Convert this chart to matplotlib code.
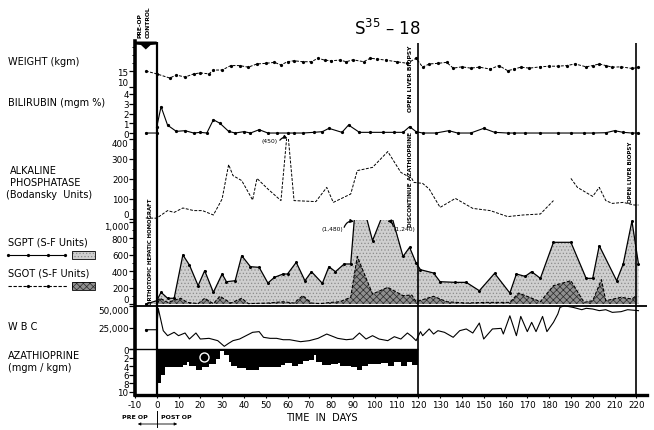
import matplotlib
matplotlib.use('Agg')
import matplotlib.pyplot as plt
import numpy as np
from matplotlib.patches import Polygon, Rectangle, FancyArrowPatch
from matplotlib.lines import Line2D

# ---------------- data ----------------
weight_day = [-5, 0, 6, 9, 13, 17, 20, 24, 26, 30, 34, 38, 42, 46, 50, 54, 57, 60, 63, 67,
              71, 74, 77, 80, 84, 87, 90, 95, 98, 101, 105, 110, 115, 119, 122, 125, 129, 133, 136, 140,
              144, 148, 153, 157, 161, 164, 167, 171, 176, 180, 184, 188, 192, 197, 200, 203, 206, 209, 213, 218,
              221]
weight_kg = [15, 14.1, 12.8, 13.75, 13.1, 14.1, 14.4, 14.1, 15.3, 15.3, 16.7, 16.7, 16.2, 17.2, 17.4, 17.7, 16.9, 17.9, 18.2, 17.9,
             17.9, 19, 18.4, 18.2, 18.4, 17.9, 18.5, 17.9, 19, 18.75, 18.4, 17.9, 17.4, 19, 16.2, 17.2, 17.4, 17.7, 15.9, 16.3,
             15.9, 16.2, 15.6, 16.7, 15.1, 15.6, 16.2, 15.9, 16.3, 16.5, 16.5, 16.7, 17.2, 16.3, 16.7, 17.2, 16.7, 16.2, 16.3, 15.8,
             16.1]

bili_day = [-5, 0, 0, 2, 5, 9, 13, 17, 20, 23, 26, 29, 33, 36, 40, 43, 47, 51, 55, 60,
            63, 67, 72, 76, 79, 85, 88, 93, 98, 104, 109, 113, 116, 119, 122, 128, 134, 138, 144, 150,
            155, 161, 164, 169, 176, 184, 190, 196, 200, 206, 210, 214, 218, 221]
bili_val = [0, 0, 0.6, 2.7, 0.8, 0.17, 0.24, 0, 0.07, 0, 1.36, 1.0, 0.17, 0, 0.14, 0, 0.34, 0, 0, 0,
            0, 0, 0.07, 0.14, 0.48, 0.07, 0.82, 0.07, 0.07, 0.07, 0.07, 0.07, 0.65, 0.14, 0, 0, 0.24, 0, 0, 0.48,
            0.07, 0, 0, 0, 0, 0, 0, 0, 0, 0.03, 0.24, 0.07, 0, 0]

alk_day = [-5, 0, 5, 8, 12, 17, 21, 26, 30, 33, 35, 39, 44, 46, 51, 57, 60, 63, 73, 78,
           81, 89, 92, 99, 106, 112, 117, 118, 122, 125, 130, 137, 145, 153, 161, 168, 176, 182, np.nan, 190,
           193, 200, 203, 206, 209, 214, 219, 221]
alk_val = [5, 4, 42, 33, 55, 42, 42, 20, 100, 272, 217, 192, 95, 203, 150, 92, 450, 92, 87, 158,
           83, 125, 242, 258, 337, 233, 203, 183, 178, 150, 58, 103, 53, 42, 12, 20, 25, 92, np.nan, 203,
           158, 113, 158, 92, 78, 83, 70, 70]

sgpt_day = [-5, 0, 2, 5, 8, 12, 15, 19, 22, 26, 30, 32, 36, 39, 43, 47, 51, 54, 58, 60,
            64, 68, 71, 76, 79, 82, 86, 89, 92, 99, 106, 113, 116, 119, 121, 127, 130, 137, 142, 148,
            155, 162, 165, 169, 172, 176, 182, 190, 197, 200, 203, 211, 214, 218, 221]
sgpt_val = [0, 40, 143, 70, 70, 598, 476, 224, 406, 143, 366, 272, 284, 589, 455, 447, 256, 325, 366, 366,
            508, 284, 394, 252, 455, 394, 488, 488, 1480, 773, 1240, 580, 691, 500, 418, 378, 272, 264, 264, 162,
            374, 134, 366, 337, 394, 313, 752, 752, 313, 313, 711, 284, 488, 1010, 488]

sgot_day = [0, 1.5, 5, 11, 14, 19, 22, 26, 29, 34, 39, 42, 51, 58, 63, 67, 71, 75, 80, 84,
            89, 92, 99, 106, 113, 117, 119, 127, 133, 142, 151, 162, 166, 171, 176, 182, 190, 196, 200, 204,
            206, 213, 218, 220]
sgot_val = [40, 70, 20, 70, 20, 5, 70, 5, 94, 12, 70, 5, 12, 28, 12, 102, 12, 5, 20, 28,
            82, 580, 122, 203, 102, 110, 28, 94, 28, 12, 20, 20, 134, 82, 28, 224, 284, 20, 40, 296,
            40, 82, 61, 102]

wbc_day = [-5, 0, 0.7, 3, 5, 8, 10, 13, 15, 18, 20, 24, 28, 31, 33, 35, 38, 41, 44, 47,
           49, 52, 55, 58, 61, 66, 70, 74, 78, 83, 87, 90, 93, 96, 99, 102, 106, 109, 112, 115,
           117, 119, 121, 122, 125, 127, 129, 132, 136, 139, 142, 145, 148, 150, 154, 158, 159, 162, 165, 167,
           170, 172, 174, 177, 179, 182, 184, 185, 187, 191, 195, 197, 200, 203, 206, 209, 213, 216, 221]
wbc_val = [22400, 22400, 47300, 21300, 15500, 19400, 15500, 18600, 11600, 18600, 11600, 12400, 9700, 3100, 6600, 9700, 11600, 15500, 19400, 20200,
           13600, 12400, 12400, 10800, 10800, 8500, 9700, 12400, 17400, 12400, 10800, 11600, 18600, 11600, 15500, 11600, 9700, 14300, 11600, 18600,
           14700, 9700, 20200, 15500, 23300, 17400, 21300, 19400, 13600, 21300, 23300, 18600, 30200, 11600, 23300, 24000, 17400, 38600, 15500, 37900,
           20200, 31000, 20200, 37900, 20200, 31000, 40700, 48400, 50300, 48400, 45700, 47300, 46500, 44600, 45700, 42600, 43400, 45700, 44600]

aza_start = [0, 2, 4, 8, 12, 14, 15, 18, 21, 24, 27, 29, 31, 33, 34, 37, 41, 47, 52, 57,
             59, 62, 65, 67, 70, 72, 73, 76, 80, 83, 84, 89, 92, 94, 97, 103, 106, 109, 112, 115,
             117]
aza_end_day = 120
aza_dose = [8, 6, 4.2, 4.3, 3.8, 3.0, 4.0, 4.8, 4.3, 3.6, 2.3, 0.5, 1.5, 3.0, 4.0, 4.5, 4.8, 4.3, 4.2, 3.8,
            3.3, 4.0, 3.4, 2.8, 2.5, 1.5, 3.0, 3.8, 3.6, 3.3, 4.0, 4.3, 4.9, 4.0, 3.6, 3.3, 4.0, 3.0, 4.0, 3.0,
            3.8]
aza_circle_day, aza_circle_dose = [21.5], [1.9]

x_ticks = list(range(-10, 221, 10))
x_ticklabels = [str(t) for t in x_ticks]
event_days = [0, 120, 220]

# ---------------- layout helpers ----------------
W, H = 654, 431
fig = plt.figure(figsize=(W / 100, H / 100), dpi=100)
plt.rcParams['font.family'] = ['DejaVu Sans']
plt.rcParams['hatch.linewidth'] = 0.5

XMIN, XMAX = -10, 225
LPX, RPX = 134.9, 647.2
FS_TICK = 6.3


def add_panel(top, bottom):
    ax = fig.add_axes([LPX / W, 1 - bottom / H, (RPX - LPX) / W, (bottom - top) / H])
    ax.set_xlim(XMIN, XMAX)
    ax.patch.set_alpha(0)
    for s in ax.spines.values():
        s.set_visible(False)
    ax.tick_params(axis='x', bottom=False, labelbottom=False)
    ax.tick_params(axis='y', direction='out', length=4, width=0.9, labelsize=FS_TICK, pad=0.5)
    ax.tick_params(axis='y', which='minor', direction='out', length=2.5, width=0.7)
    return ax


def set_label_va(ax, index, va):
    ax.yaxis.get_major_ticks()[index].label1.set_verticalalignment(va)


def ftext(px, py, s, **kw):
    return fig.text(px / W, 1 - py / H, s, **kw)


def arrow(ax, start, end, rad):
    ax.annotate('', xy=end, xytext=start, annotation_clip=False,
                arrowprops=dict(arrowstyle='-|>', lw=0.9, color='black', mutation_scale=5,
                                shrinkA=0, shrinkB=0, connectionstyle='arc3,rad=%g' % rad))


# weight
ax_w = add_panel(42, 90)
ax_w.set_ylim(9.375, 24.375)
ax_w.set_yticks([10, 15])
ax_w.set_yticks([17.5, 20, 22.5], minor=True)
set_label_va(ax_w, 0, 'bottom')
ax_w.plot(weight_day, weight_kg, ls=(0, (3, 1.5)), color='black', lw=0.7,
          marker='o', ms=1.3)

# bilirubin
ax_b = add_panel(90, 135)
ax_b.set_ylim(-0.1, 4.51)
ax_b.set_yticks([0, 1, 2, 3, 4])
ax_b.plot(bili_day, bili_val, color='black', lw=0.8, marker='o', ms=1.3)

# alkaline phosphatase
ax_a = add_panel(140, 221)
ax_a.set_ylim(-5, 400)
ax_a.set_yticks([0, 100, 200, 300, 400])
ax_a.set_yticks([50, 150, 250, 350], minor=True)
set_label_va(ax_a, 0, 'bottom')
set_label_va(ax_a, 4, 'top')
ax_a.plot(alk_day, alk_val, ls=(0, (3, 1.5)), color='black', lw=0.7)
ax_a.text(52, 392, '(450)', fontsize=4.3, ha='center', va='center')
arrow(ax_a, (56.5, 394), (60, 402), -0.4)

# SGPT / SGOT
ax_s = add_panel(221, 306)
ax_s.set_ylim(-12, 1024)
ax_s.set_yticks([0, 200, 400, 600, 800, 1000])
ax_s.set_yticklabels(['0', '200', '400', '600', '800', '1,000'])
ax_s.set_yticks([100, 300, 500, 700, 900], minor=True)
set_label_va(ax_s, 0, 'bottom')
set_label_va(ax_s, 5, 'top')
ax_s.fill_between(sgpt_day, 0, sgpt_val, facecolor='#cfcfcf', edgecolor='#8c8c8c',
                  hatch='.....', lw=0, zorder=1)
ax_s.fill_between(sgot_day, 0, sgot_val, facecolor='#8e8e8e', edgecolor='#2a2a2a',
                  hatch='xxxxx', lw=0, zorder=2)
ax_s.plot(sgpt_day, sgpt_val, color='black', lw=0.9, marker='o', ms=1.2, zorder=3)
ax_s.plot(sgot_day, sgot_val, color='black', lw=0.8, ls=(0, (3, 1.5)), zorder=3)
ax_s.text(80.5, 915, '(1,480)', fontsize=4.3, ha='center', va='center')
arrow(ax_s, (86, 935), (90.5, 1005), -0.4)
ax_s.text(113.5, 915, '(1,240)', fontsize=4.3, ha='center', va='center')
arrow(ax_s, (108.5, 945), (105.8, 1010), 0.4)

# WBC
ax_c = add_panel(306, 350)
ax_c.set_ylim(0, 51163)
ax_c.set_yticks([0, 25000, 50000])
ax_c.set_yticklabels(['0', '25,000', '50,000'])
set_label_va(ax_c, 2, 'top')
ax_c.plot(wbc_day, wbc_val, color='black', lw=0.8)
ax_c.plot(wbc_day[:1], wbc_val[:1], 'o', color='black', ms=1.3)

# Azathioprine
ax_z = add_panel(350, 393)
ax_z.set_ylim(10, 0)
ax_z.set_yticks([0, 2, 4, 6, 8, 10])
ax_z.set_yticklabels(['', '2', '4', '6', '8', '10'])
ax_z.fill_between(aza_start + [aza_end_day], 0, aza_dose + [aza_dose[-1]], step='post',
                  color='black', lw=0)
ax_z.plot(aza_circle_day, aza_circle_dose, 'o', mfc='none', mec='white', ms=6.5, mew=1.0)

# frame axes (decorations: spines, event lines, x axis)
fr = fig.add_axes([LPX / W, 1 - 396 / H, (RPX - LPX) / W, (396 - 42) / H], zorder=10)
fr.patch.set_alpha(0)
fr.set_xlim(XMIN, XMAX)
fr.set_ylim(396, 42)
for k in ['top', 'right']:
    fr.spines[k].set_visible(False)
fr.spines['left'].set_linewidth(2.6)
fr.spines['bottom'].set_linewidth(2.4)
fr.set_yticks([])
fr.set_xticks(x_ticks)
fr.set_xticklabels(x_ticklabels)
fr.tick_params(axis='x', direction='out', length=2, width=0.8, labelsize=FS_TICK, pad=1.5)
fr.vlines(event_days[0], 43, 396, color='black', lw=1.6)
fr.vlines(event_days[1:], 44, 396, color='black', lw=1.2)
fr.hlines(306.5, XMIN, XMAX, color='black', lw=1.3)
fr.hlines(350, XMIN, 120, color='black', lw=1.0)
fr.add_patch(Polygon([(-10, 42.5), (0, 42.5), (0, 45.5), (-2.8, 46), (-5, 50.5), (-7.2, 46), (-10, 45.5)],
                     closed=True, color='black', lw=0))

# ---------------- texts ----------------
ftext(387, 29, 'S$^{35}$ – 18', fontsize=12, ha='center', va='center')
ftext(140, 38, 'PRE-OP', fontsize=4.3, rotation=90, ha='center', va='bottom', fontweight='bold')
ftext(148, 38, 'CONTROL', fontsize=4.3, rotation=90, ha='center', va='bottom', fontweight='bold')

lab = dict(fontsize=7, ha='left', va='center')
ftext(8, 62, 'WEIGHT (kgm)', **lab)
ftext(8, 103, 'BILIRUBIN (mgm %)', **lab)
ftext(10, 171, 'ALKALINE', **lab)
ftext(10, 183, 'PHOSPHATASE', **lab)
ftext(6, 195, '(Bodansky  Units)', **lab)
ftext(8, 243, 'SGPT (S-F Units)', **lab)
ftext(8, 274, 'SGOT (S-F Units)', **lab)
ftext(8, 327, 'W B C', **lab)
ftext(8, 356, 'AZATHIOPRINE', **lab)
ftext(8, 368, '(mgm / kgm)', **lab)
ftext(322, 418, 'TIME  IN  DAYS', fontsize=7, ha='center', va='center')

# legend samples
fig.add_artist(Line2D([8 / W, 28 / W, 48 / W, 65 / W], [1 - 256 / H] * 4, color='black', lw=0.8,
                      marker='o', ms=1.3, transform=fig.transFigure))
fig.add_artist(Line2D([8 / W, 28 / W, 48 / W, 68 / W], [1 - 287 / H] * 4, color='black', lw=0.8,
                      ls=(0, (3, 1.5)), marker='o', ms=1.3, markevery=[1, 2], transform=fig.transFigure))
fig.add_artist(Rectangle((72 / W, 1 - 260 / H), 23 / W, 8 / H, transform=fig.transFigure,
                         facecolor='#cfcfcf', edgecolor='#8c8c8c', hatch='.....', lw=0))
fig.add_artist(Rectangle((72 / W, 1 - 260 / H), 23 / W, 8 / H, transform=fig.transFigure,
                         fill=False, edgecolor='black', lw=0.6))
fig.add_artist(Rectangle((72 / W, 1 - 291 / H), 23 / W, 8 / H, transform=fig.transFigure,
                         facecolor='#8e8e8e', edgecolor='#2a2a2a', hatch='xxxxx', lw=0))
fig.add_artist(Rectangle((72 / W, 1 - 291 / H), 23 / W, 8 / H, transform=fig.transFigure,
                         fill=False, edgecolor='black', lw=0.6))

# event labels (vertical)
ev = dict(rotation=90, ha='center', va='center', fontweight='bold')
ftext(150, 252, 'ORTHOTOPIC HEPATIC HOMOGRAFT', fontsize=3.9, **ev)
ftext(411, 79, 'OPEN LIVER BIOPSY', fontsize=4.3, **ev)
ftext(411, 179, 'DISCONTINUE AZATHIOPRINE', fontsize=4.2, **ev)
ftext(630, 172, 'OPEN LIVER BIOPSY', fontsize=4.0, **ev)

# pre-op / post-op marker
ftext(148, 418, 'PRE OP', fontsize=4.5, ha='right', va='center', fontweight='bold')
ftext(161, 418, 'POST OP', fontsize=4.5, ha='left', va='center', fontweight='bold')
fig.add_artist(Line2D([157 / W, 157 / W], [1 - 412 / H, 1 - 428 / H], color='black', lw=0.7,
                      transform=fig.transFigure))
fig.add_artist(FancyArrowPatch((135 / W, 1 - 425 / H), (180 / W, 1 - 425 / H),
                               arrowstyle='<|-|>', mutation_scale=4, lw=0.6,
                               color='black', transform=fig.transFigure))

fig.savefig('out.png', dpi=100)
